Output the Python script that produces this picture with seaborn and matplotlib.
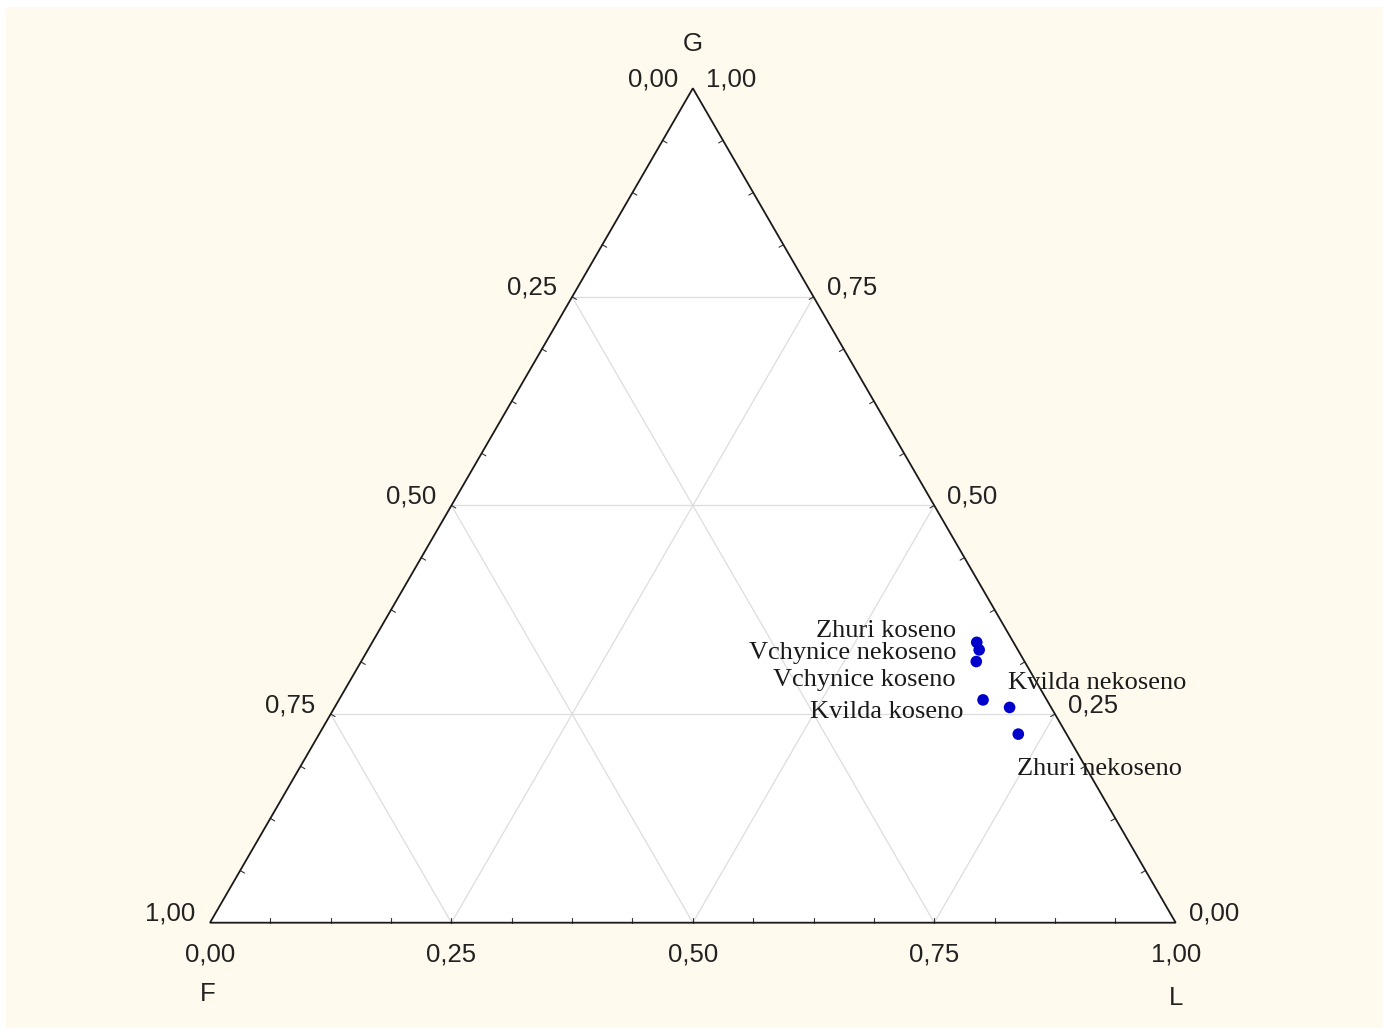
import numpy as np
import matplotlib
matplotlib.use("Agg")
import matplotlib.pyplot as plt
from matplotlib.patches import Polygon, Rectangle
import seaborn as sns

# Composition of each site: F, G, L fractions
sites = ["Zhuri koseno", "Vchynice nekoseno", "Vchynice koseno",
         "Kvilda koseno", "Kvilda nekoseno", "Zhuri nekoseno"]
f_frac = [0.038, 0.040, 0.050, 0.066, 0.043, 0.050]
g_frac = [0.336, 0.327, 0.313, 0.267, 0.258, 0.226]
l_frac = [0.626, 0.633, 0.637, 0.667, 0.699, 0.724]

# Label offsets (pixels) and alignment for each site label
label_dx = [-21, -23, -21, -20, -2, -1]
label_dy = [11, -3, -18, -12, 24, -35]
label_ha = ["right", "right", "right", "right", "left", "left"]

grid_levels = [0.25, 0.50, 0.75]
minor_step = 1 / 16
tick_text = ["0,00", "0,25", "0,50", "0,75", "1,00"]

H = np.sqrt(3) / 2


def tern(f, g, l):
    """Ternary (F, G, L) -> Cartesian; F bottom-left, L bottom-right, G top."""
    f, g, l = np.asarray(f, float), np.asarray(g, float), np.asarray(l, float)
    return l + g / 2, g * H


sns.set_theme(style="white")
plt.rcParams["font.family"] = ["Liberation Sans", "DejaVu Sans"]

W, HGT, DPI = 1383, 1028, 100
fig = plt.figure(figsize=(W / DPI, HGT / DPI), dpi=DPI, facecolor="white")

ax = fig.add_axes([0, 0, 1, 1])
ax.set_facecolor("white")
ax.add_patch(Rectangle((6 / W, 0), 1, (HGT - 7) / HGT, transform=ax.transAxes,
                       facecolor="#fff9ee", edgecolor="none", zorder=0))
px = 965.7      # pixels per unit along x
py = 963.5      # pixels per unit along y
x0, y0 = 210.0, 922.7
ax.set_xlim(-x0 / px, (W - x0) / px)
ax.set_ylim(-(HGT - y0) / py, y0 / py)
ax.set_axis_off()

# Triangle body
corners = np.array([tern(1, 0, 0), tern(0, 0, 1), tern(0, 1, 0)])
ax.add_patch(Polygon(corners, closed=True, facecolor="white", edgecolor="none", zorder=1))

# Grid lines parallel to each side
gcol = "#dddddd"
for t in grid_levels:
    for a, b in [(tern(1 - t, t, 0), tern(0, t, 1 - t)),
                 (tern(1 - t, 0, t), tern(0, 1 - t, t)),
                 (tern(t, 0, 1 - t), tern(t, 1 - t, 0))]:
        ax.plot([a[0], b[0]], [a[1], b[1]], color=gcol, lw=0.9, zorder=2)

# Minor ticks pointing inward along the edges
centroid = corners.mean(axis=0)
edges = [(corners[0], corners[1]), (corners[1], corners[2]), (corners[2], corners[0])]
tl = 5 / px
for p, q in edges:
    d = q - p
    n = np.array([-d[1], d[0]])
    n /= np.linalg.norm(n)
    if np.dot(centroid - p, n) < 0:
        n = -n
    for s in np.arange(minor_step, 1, minor_step):
        pt = p + s * d
        ax.plot([pt[0], pt[0] + n[0] * tl], [pt[1], pt[1] + n[1] * tl],
                color="#333333", lw=0.8, zorder=3)

# Triangle outline
ax.add_patch(Polygon(corners, closed=True, facecolor="none", edgecolor="#1a1a1a",
                     lw=1.3, zorder=4))

# Scale labels
tcol = "#222222"
fs = 18.5
levels = np.linspace(0, 1, 5)
for v, txt in zip(levels, tick_text):
    # bottom: L
    x, y = tern(1 - v, 0, v)
    ax.annotate(txt, (x, y), xytext=(0, -32), textcoords="offset pixels",
                ha="center", va="center", fontsize=fs, color=tcol)
    # left: F (0 at top, 1 at bottom-left)
    x, y = tern(v, 1 - v, 0)
    ax.annotate(txt, (x, y), xytext=(-15, 9), textcoords="offset pixels",
                ha="right", va="center", fontsize=fs, color=tcol)
    # right: G (1 at top, 0 at bottom-right)
    x, y = tern(0, v, 1 - v)
    ax.annotate(txt, (x, y), xytext=(13, 9), textcoords="offset pixels",
                ha="left", va="center", fontsize=fs, color=tcol)

# Vertex names
for name, (x, y), off in [("G", tern(0, 1, 0), (0, 44)),
                          ("F", tern(1, 0, 0), (-2, -71)),
                          ("L", tern(0, 0, 1), (0, -75))]:
    ax.annotate(name, (x, y), xytext=off, textcoords="offset pixels",
                ha="center", va="center", fontsize=fs, color=tcol)

# Sites
xs, ys = tern(f_frac, g_frac, l_frac)
sns.scatterplot(x=xs, y=ys, ax=ax, color="#0000cc", s=70, edgecolor="none",
                linewidth=0, zorder=6, legend=False)

for name, x, y, dx, dy, ha in zip(sites, xs, ys, label_dx, label_dy, label_ha):
    ax.annotate(name, (x, y), xytext=(dx, dy), textcoords="offset pixels",
                ha=ha, va="center", fontsize=19, color="#1a1a1a",
                family=["Liberation Serif", "DejaVu Serif"], zorder=7)

fig.savefig("out.png", dpi=DPI, facecolor=fig.get_facecolor())
